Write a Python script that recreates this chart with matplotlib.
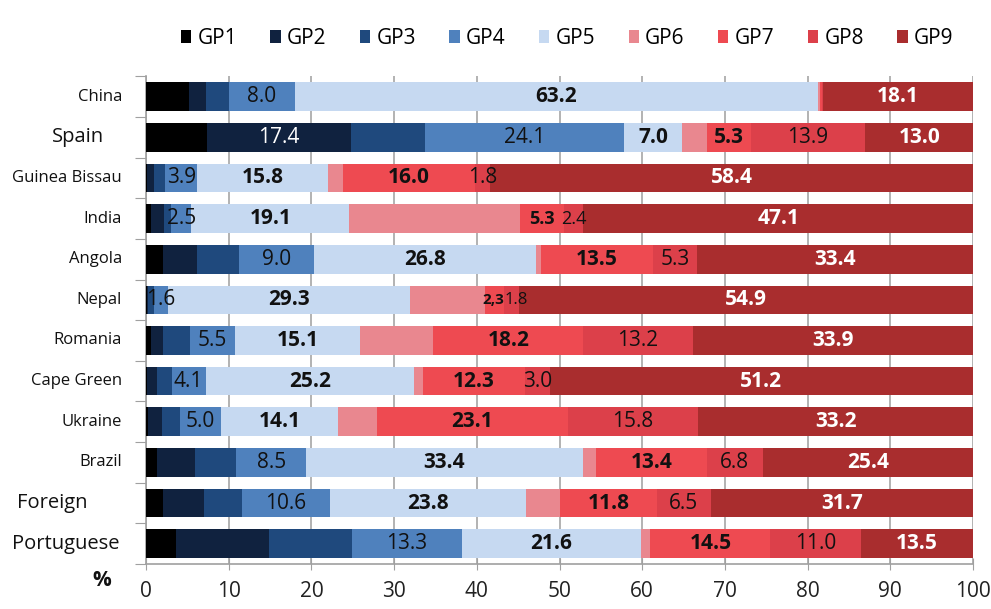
import numpy as np
import matplotlib
matplotlib.use("Agg")
import matplotlib.pyplot as plt
from matplotlib.patches import Patch
from matplotlib.transforms import blended_transform_factory

plt.rcParams['font.family'] = ['Open Sans', 'DejaVu Sans']

rows = ["China", "Spain", "Guinea Bissau", "India", "Angola", "Nepal", "Romania",
        "Cape Green", "Ukraine", "Brazil", "Foreign", "Portuguese"]
groups = ["GP1", "GP2", "GP3", "GP4", "GP5", "GP6", "GP7", "GP8", "GP9"]

GP1 = [5.2, 7.4, 0.1, 0.6, 2.0, 0.1, 0.6, 0.1, 0.3, 1.3, 2.0, 3.6]
GP2 = [2.0, 17.4, 0.9, 1.6, 4.2, 0.1, 1.4, 1.2, 1.6, 4.6, 5.0, 11.3]
GP3 = [2.8, 8.9, 1.3, 0.8, 5.1, 0.8, 3.3, 1.8, 2.2, 5.0, 4.6, 10.0]
GP4 = [8.0, 24.1, 3.9, 2.5, 9.0, 1.6, 5.5, 4.1, 5.0, 8.5, 10.6, 13.3]
GP5 = [63.2, 7.0, 15.8, 19.1, 26.8, 29.3, 15.1, 25.2, 14.1, 33.4, 23.8, 21.6]
GP6 = [0.3, 3.0, 1.8, 20.6, 0.7, 9.1, 8.8, 1.1, 4.7, 1.6, 4.0, 1.2]
GP7 = [0.3, 5.3, 16.0, 5.3, 13.5, 2.3, 18.2, 12.3, 23.1, 13.4, 11.8, 14.5]
GP8 = [0.1, 13.9, 1.8, 2.4, 5.3, 1.8, 13.2, 3.0, 15.8, 6.8, 6.5, 11.0]
GP9 = [18.1, 13.0, 58.4, 47.1, 33.4, 54.9, 33.9, 51.2, 33.2, 25.4, 31.7, 13.5]
series = [GP1, GP2, GP3, GP4, GP5, GP6, GP7, GP8, GP9]

# which segments carry a value label (row -> group indices)
labeled = {
    "China": [3, 4, 8],
    "Spain": [1, 3, 4, 6, 7, 8],
}
default_labeled = [3, 4, 6, 7, 8]
label_text_override = {("Nepal", 6): "2,3"}
small_sizes = {("India", 6): 13, ("India", 7): 13, ("Nepal", 6): 11, ("Nepal", 7): 12}

colors = ["#000000", "#10223f", "#1f497d", "#4f81bd", "#c6d9f1",
          "#e9878f", "#ee4a51", "#dc404a", "#a92d2e"]
label_style = {1: ("white", "normal"), 3: ("#111111", "normal"), 4: ("#111111", "bold"),
               6: ("#111111", "bold"), 7: ("#111111", "normal"), 8: ("white", "bold")}

fig = plt.figure(figsize=(9.91, 6.09), dpi=100)
ax = fig.add_axes([146 / 991, 1 - 564 / 609, (973 - 146) / 991, (564 - 76.3) / 609])

y = np.arange(len(rows))
left = np.zeros(len(rows))
for k, (name, vals) in enumerate(zip(groups, series)):
    vals = np.array(vals, dtype=float)
    ax.barh(y, vals, left=left, height=0.705, color=colors[k], linewidth=0,
            zorder=3, label=name)
    for i, r in enumerate(rows):
        if k in labeled.get(r, default_labeled):
            txt = label_text_override.get((r, k), f"{vals[i]:.1f}")
            c, w = label_style[k]
            fs = small_sizes.get((r, k), 15)
            xc = left[i] + vals[i] / 2
            ha = "center"
            if (r, k) == ("Nepal", 6):
                xc, ha = left[i] + vals[i], "right"
            elif (r, k) == ("Nepal", 7):
                xc, ha = left[i], "left"
            ax.text(xc, i, txt, ha=ha, va="center",
                    color=c, fontweight=w, fontsize=fs, zorder=5)
    left += vals

ax.set_xlim(0, 100)
ax.set_ylim(len(rows) - 0.5, -0.5)
ax.set_xticks(np.arange(0, 101, 10))
ax.tick_params(axis="x", labelsize=15, length=8, color="#a0a0a0", labelcolor="#222222",
               pad=8, direction="inout")
ax.set_yticks(np.arange(-0.5, len(rows), 1))
ax.set_yticklabels([])
ax.tick_params(axis="y", length=8, color="#a0a0a0")
ax.xaxis.grid(True, color="#a6a6a6", linewidth=1.2, zorder=0)
ax.set_axisbelow(True)
for s in ["top", "right"]:
    ax.spines[s].set_visible(False)
for s in ["left", "bottom"]:
    ax.spines[s].set_color("#a0a0a0")
    ax.spines[s].set_linewidth(1.2)

# category labels
tr = blended_transform_factory(ax.transAxes, ax.transData)
big = {"Spain": (-0.0822, "center"), "Foreign": (-0.156, "left"), "Portuguese": (-0.162, "left")}
for i, r in enumerate(rows):
    if r in big:
        xpos, ha = big[r]
        ax.text(xpos, i, r, transform=tr, ha=ha, va="center", fontsize=14.5, color="#111111")
    else:
        ax.text(-0.029, i, r, transform=tr, ha="right", va="center", fontsize=12, color="#111111")

fig.text(102 / 991, 1 - 581 / 609, "%", ha="center", va="center", fontsize=15,
         fontweight="bold", color="#111111")

handles = [Patch(facecolor=c, edgecolor="none") for c in colors]
fig.legend(handles, groups, loc="center", bbox_to_anchor=(567 / 991, 1 - 38 / 609),
           ncol=9, frameon=False, fontsize=15,
           handlelength=0.5, handleheight=0.6, handletextpad=0.3, columnspacing=1.6)

fig.savefig("out.png", dpi=100)
